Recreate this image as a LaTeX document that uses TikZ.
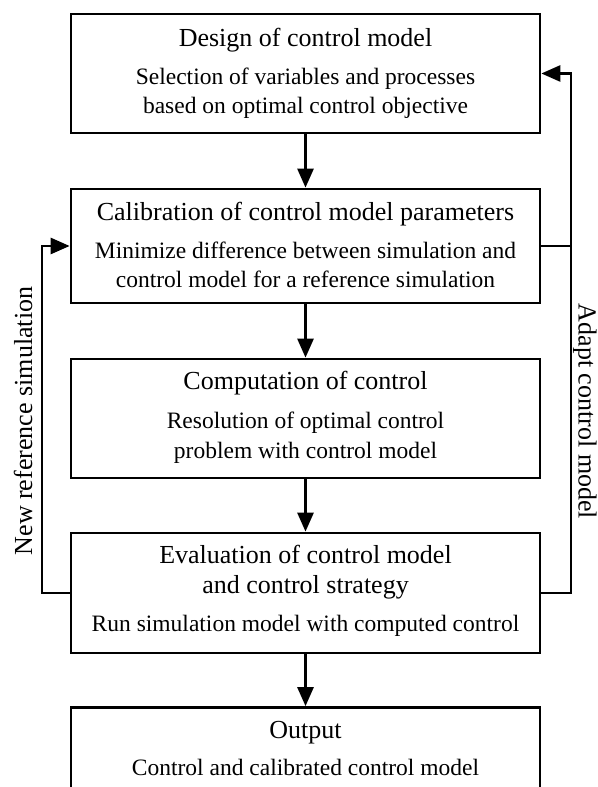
\documentclass[tikz,border=0pt]{standalone}
\usepackage{fontspec}
\setmainfont{Liberation Serif}
\usetikzlibrary{arrows.meta}
\begin{document}
\begin{tikzpicture}[x=1pt,y=1pt,
  box/.style={draw, line width=2.7pt, minimum width=469pt, inner sep=0pt},
  ttl/.style={anchor=base, font=\fontsize{26}{31}\selectfont, inner sep=0pt},
  sub/.style={anchor=base, font=\fontsize{23.5}{29}\selectfont, inner sep=0pt},
  conn/.style={line width=2.7pt, -{Triangle[length=19pt,width=16pt]}},
  plainline/.style={line width=2.7pt},
  side/.style={font=\fontsize{26}{31}\selectfont, inner sep=0pt, anchor=base}]
\useasboundingbox (0,0) rectangle (597,787);
% boxes
\node[box, minimum height=119pt] (b1) at (305.5,713.5) {};
\node[box, minimum height=114pt] (b2) at (305.5,541) {};
\node[box, minimum height=119pt] (b3) at (305.5,368.5) {};
\node[box, minimum height=120pt] (b4) at (305.5,194) {};
\node[box, minimum height=120pt] (b5) at (305.5,19.5) {};
% texts
\node[ttl] (t1) at (305.5,740.5) {Design of control model};
\node[sub] (s1a) at (305.5,702) {Selection of variables and processes};
\node[sub] (s1b) at (305.5,673) {based on optimal control objective};
\node[ttl] (t2) at (305.5,566.3) {Calibration of control model parameters};
\node[sub] (s2a) at (305.5,528) {Minimize difference between simulation and};
\node[sub] (s2b) at (305.5,499.5) {control model for a reference simulation};
\node[ttl] (t3) at (305.5,397) {Computation of control};
\node[sub] (s3a) at (305.5,358.7) {Resolution of optimal control};
\node[sub] (s3b) at (305.5,328.7) {problem with control model};
\node[ttl] (t4a) at (305.5,223) {Evaluation of control model};
\node[ttl] (t4b) at (305.5,193) {and control strategy};
\node[sub] (s4a) at (305.5,155.3) {Run simulation model with computed control};
\node[ttl] (t5) at (305.5,48.7) {Output};
\node[sub] (s5a) at (305.5,11) {Control and calibrated control model};
% side labels
\node[side, rotate=90] (lblL) at (32,366) {New reference simulation};
\node[side, rotate=-90] (lblR) at (578.5,375.5) {Adapt control model};
% connectors
\coordinate (L) at (42,0);
\coordinate (R) at (571,0);
\draw[conn] (b1.south) -- (b2.north);
\draw[conn] (b2.south) -- (b3.north);
\draw[conn] (b3.south) -- (b4.north);
\draw[conn] (b4.south) -- (b5.north);
\draw[conn] (b4.west) -- (b4.west -| L) |- (b2.west);
\draw[conn] (b4.east) -- (b4.east -| R) |- (b1.east);
\draw[plainline] (b2.east) -- (b2.east -| R);
\end{tikzpicture}
\end{document}
